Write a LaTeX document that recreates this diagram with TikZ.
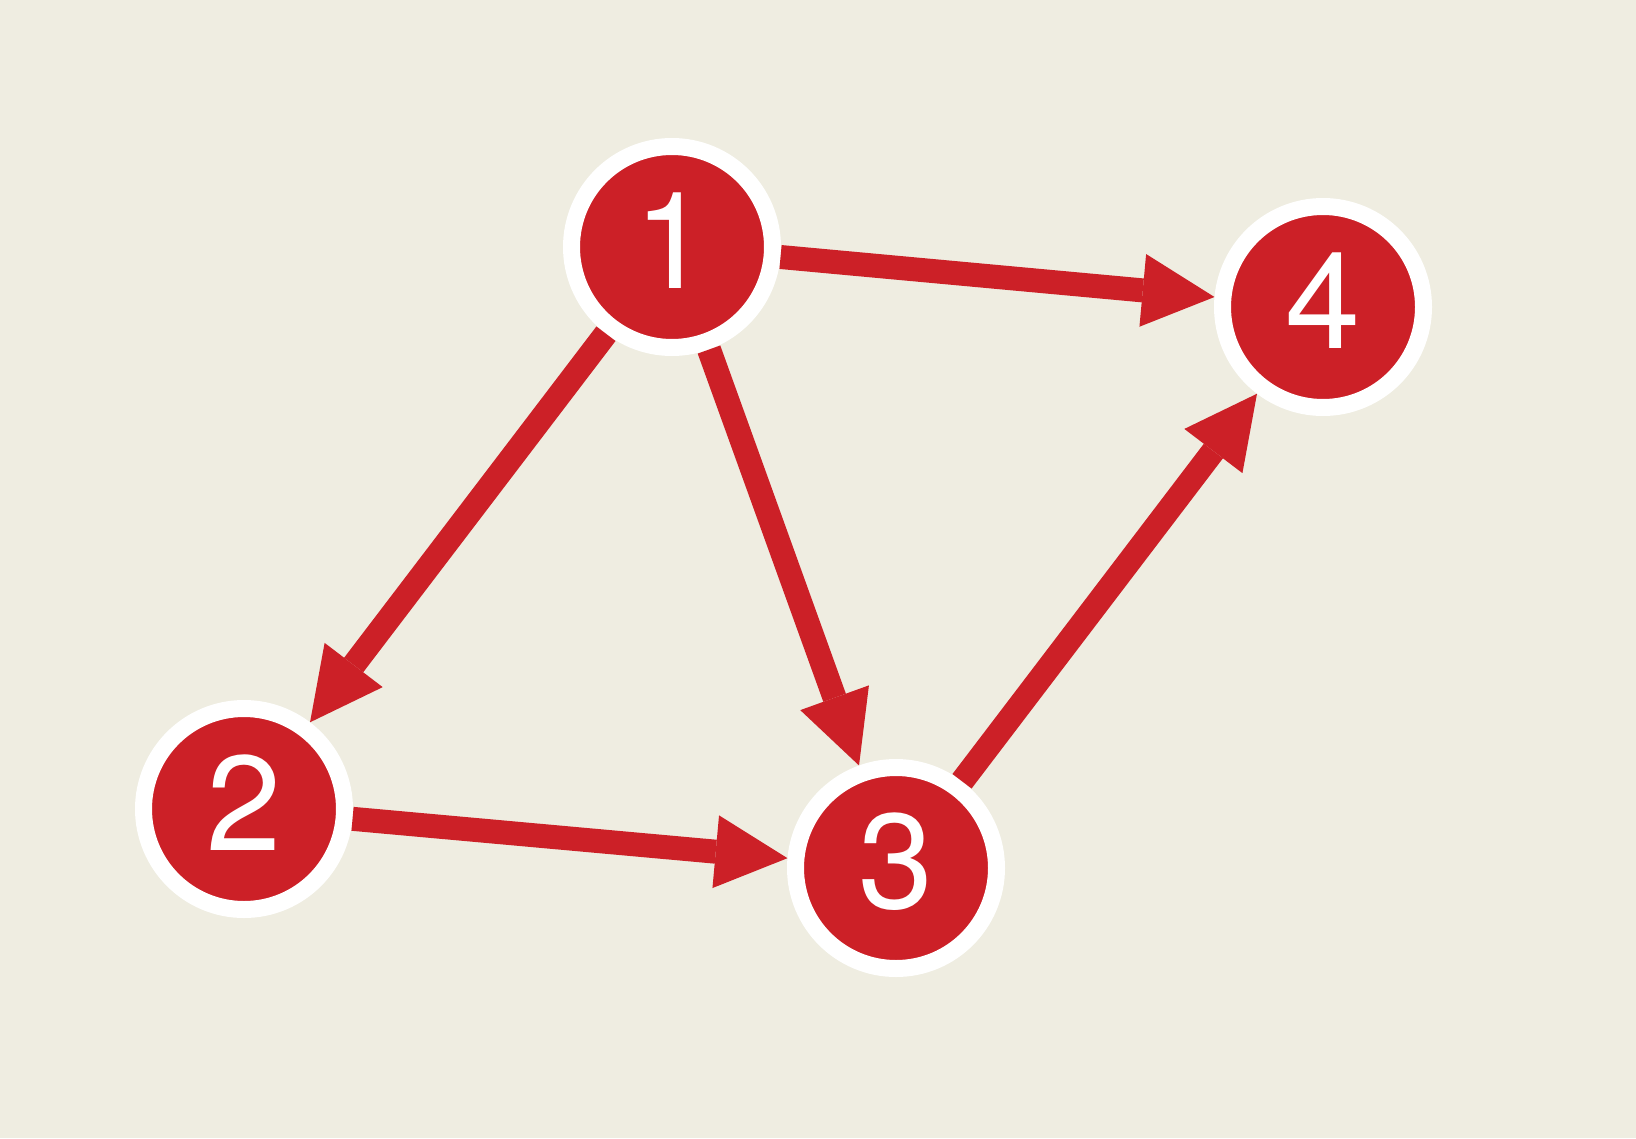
\documentclass[tikz,border=0pt]{standalone}
\usepackage{fontspec}
\setmainfont{TeX Gyre Heros}
\usetikzlibrary{arrows.meta}
\definecolor{paper}{HTML}{EFEDE1}
\definecolor{nodered}{HTML}{CC2027}
\begin{document}
\begin{tikzpicture}[x=1pt,y=-1pt,
  vertex/.style={circle,fill=nodered,draw=white,line width=17pt,
    minimum size=201pt,inner sep=0pt,outer sep=8.5pt},
  digit/.style={text=white,inner sep=0pt,
    font=\fontsize{135}{135}\selectfont},
  link/.style={draw=nodered,line width=24pt,
    -{Triangle[length=72pt,width=73pt,line width=0pt]}}]
  % background
  \fill[paper] (0,0) rectangle (1636,1138);
  \useasboundingbox (0,0) rectangle (1636,1138);
  % vertices
  \node[vertex] (n1) at (672,247) {};
  \node[vertex] (n2) at (244,809) {};
  \node[vertex] (n3) at (896,868) {};
  \node[vertex] (n4) at (1323,307) {};
  % labels
  \node[digit] (t1) at ([yshift=6pt]n1.center) {1};
  \node[digit] (t2) at ([yshift=6pt]n2.center) {2};
  \node[digit] (t3) at ([yshift=6pt]n3.center) {3};
  \node[digit] (t4) at ([yshift=6pt]n4.center) {4};
  % directed edges
  \draw[link] (n1) -- (n4);
  \draw[link] (n1) -- (n2);
  \draw[link] (n1) -- (n3);
  \draw[link] (n2) -- (n3);
  \draw[link] (n3) -- (n4);
\end{tikzpicture}
\end{document}
